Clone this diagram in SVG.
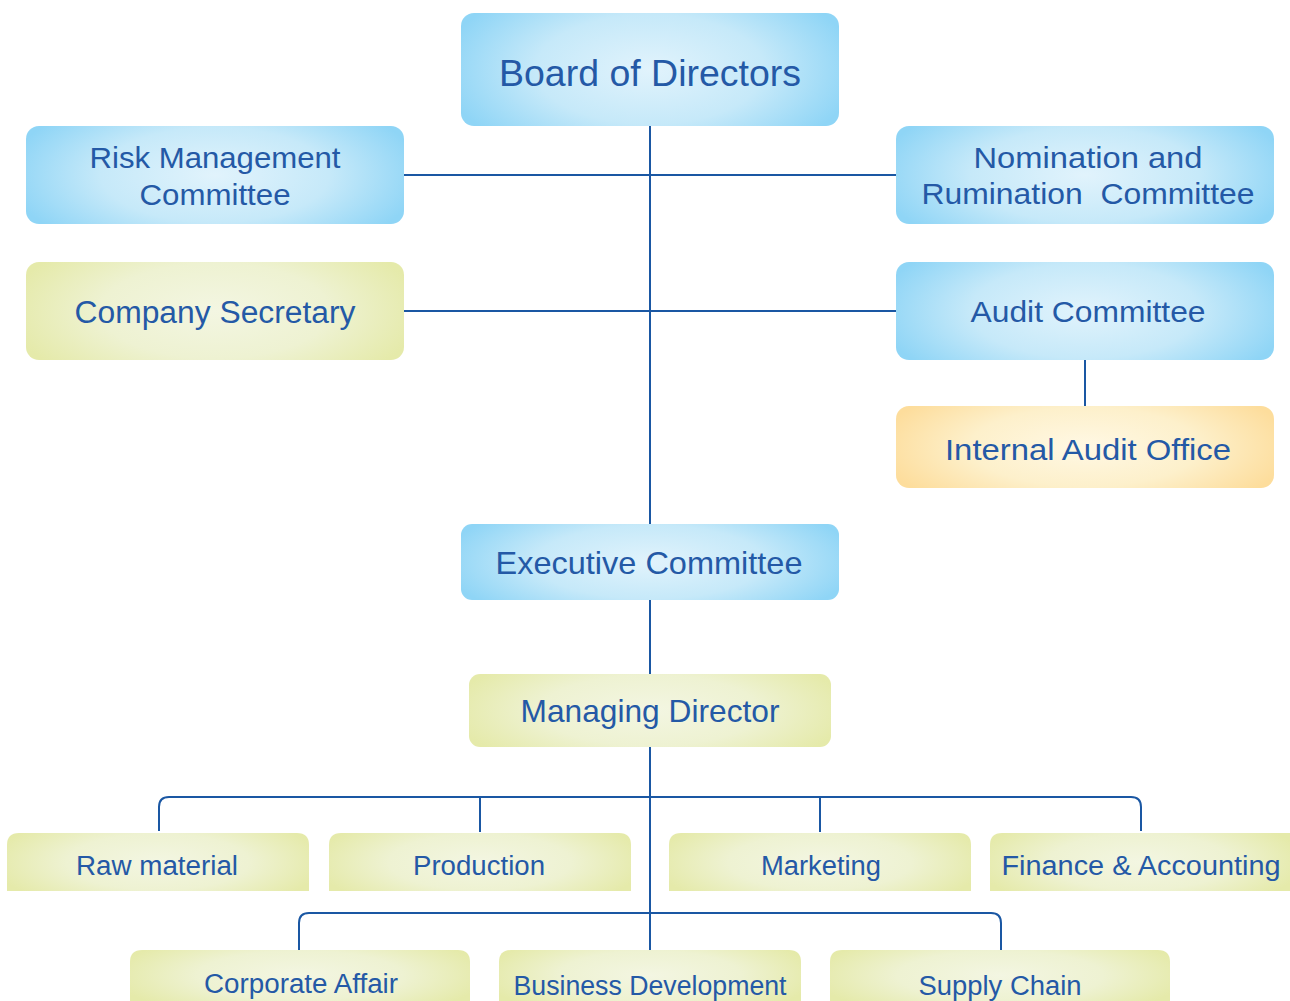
<svg xmlns="http://www.w3.org/2000/svg" width="1290" height="1001" viewBox="0 0 1290 1001">
  <defs>
    <radialGradient id="gBlue" cx="0.5" cy="0.5" r="0.55" gradientTransform="translate(0 0.5) scale(1 1.6) translate(0 -0.5)">
      <stop offset="0" stop-color="#e1f3fc"/>
      <stop offset="0.55" stop-color="#c6e9f9"/>
      <stop offset="1" stop-color="#8fd5f6"/>
    </radialGradient>
    <radialGradient id="gGreen" cx="0.5" cy="0.5" r="0.55" gradientTransform="translate(0 0.5) scale(1 1.6) translate(0 -0.5)">
      <stop offset="0" stop-color="#f3f6e2"/>
      <stop offset="0.55" stop-color="#eef2d2"/>
      <stop offset="1" stop-color="#e5eaaa"/>
    </radialGradient>
    <radialGradient id="gOrange" cx="0.5" cy="0.5" r="0.55" gradientTransform="translate(0 0.5) scale(1 1.6) translate(0 -0.5)">
      <stop offset="0" stop-color="#fff8e4"/>
      <stop offset="0.55" stop-color="#fdf0cb"/>
      <stop offset="1" stop-color="#fddd9c"/>
    </radialGradient>
    <style>
      .blue { fill: url(#gBlue); }
      .green { fill: url(#gGreen); }
      .orange { fill: url(#gOrange); }
      text { font-family: "Liberation Sans", "Noto Sans", sans-serif; fill: #2459a6; text-anchor: middle; white-space: pre; }
      .conn { fill: none; stroke: #1a57a3; stroke-width: 2; }
    </style>
  </defs>

  <!-- connectors -->
  <g id="connectors">
    <line class="conn" x1="650" y1="126" x2="650" y2="524"/>
    <line class="conn" x1="404" y1="175" x2="896" y2="175"/>
    <line class="conn" x1="404" y1="311" x2="896" y2="311"/>
    <line class="conn" x1="1085" y1="360" x2="1085" y2="406"/>
    <line class="conn" x1="650" y1="600" x2="650" y2="674"/>
    <line class="conn" x1="650" y1="747" x2="650" y2="950"/>
    <path class="conn" d="M159 831 V807 Q159 797 169 797 H1131 Q1141 797 1141 807 V831"/>
    <line class="conn" x1="480" y1="797" x2="480" y2="832"/>
    <line class="conn" x1="820" y1="797" x2="820" y2="832"/>
    <path class="conn" d="M299 950 V923 Q299 913 309 913 H991 Q1001 913 1001 923 V950"/>
  </g>

  <g id="board">
    <rect class="blue" x="461" y="13" width="378" height="113" rx="13"/>
    <text x="650" y="86" font-size="36" textLength="302" lengthAdjust="spacingAndGlyphs">Board of Directors</text>
  </g>

  <g id="risk">
    <rect class="blue" x="26" y="126" width="378" height="98" rx="13"/>
    <text x="215" y="168" font-size="29" textLength="251" lengthAdjust="spacingAndGlyphs">Risk Management</text>
    <text x="215" y="205" font-size="29" textLength="151" lengthAdjust="spacingAndGlyphs">Committee</text>
  </g>

  <g id="nomination">
    <rect class="blue" x="896" y="126" width="378" height="98" rx="13"/>
    <text x="1088" y="168" font-size="29" textLength="229" lengthAdjust="spacingAndGlyphs">Nomination and</text>
    <text x="1088" y="204" font-size="29" textLength="333" lengthAdjust="spacingAndGlyphs">Rumination  Committee</text>
  </g>

  <g id="secretary">
    <rect class="green" x="26" y="262" width="378" height="98" rx="13"/>
    <text x="215" y="323" font-size="31" textLength="281" lengthAdjust="spacingAndGlyphs">Company Secretary</text>
  </g>

  <g id="audit">
    <rect class="blue" x="896" y="262" width="378" height="98" rx="13"/>
    <text x="1088" y="322" font-size="30" textLength="235" lengthAdjust="spacingAndGlyphs">Audit Committee</text>
  </g>

  <g id="internal-audit">
    <rect class="orange" x="896" y="406" width="378" height="82" rx="13"/>
    <text x="1088" y="460" font-size="30" textLength="286" lengthAdjust="spacingAndGlyphs">Internal Audit Office</text>
  </g>

  <g id="executive">
    <rect class="blue" x="461" y="524" width="378" height="76" rx="11"/>
    <text x="649" y="574" font-size="32" textLength="307" lengthAdjust="spacingAndGlyphs">Executive Committee</text>
  </g>

  <g id="managing-director">
    <rect class="green" x="469" y="674" width="362" height="73" rx="11"/>
    <text x="650" y="722" font-size="32" textLength="259" lengthAdjust="spacingAndGlyphs">Managing Director</text>
  </g>

  <g id="raw-material">
    <path class="green" d="M7 891 V845 Q7 833 19 833 H297 Q309 833 309 845 V891 Z"/>
    <text x="157" y="875" font-size="27" textLength="162" lengthAdjust="spacingAndGlyphs">Raw material</text>
  </g>

  <g id="production">
    <path class="green" d="M329 891 V845 Q329 833 341 833 H619 Q631 833 631 845 V891 Z"/>
    <text x="479" y="875" font-size="27" textLength="132" lengthAdjust="spacingAndGlyphs">Production</text>
  </g>

  <g id="marketing">
    <path class="green" d="M669 891 V845 Q669 833 681 833 H959 Q971 833 971 845 V891 Z"/>
    <text x="821" y="875" font-size="27" textLength="120" lengthAdjust="spacingAndGlyphs">Marketing</text>
  </g>

  <g id="finance">
    <path class="green" d="M990 891 V845 Q990 833 1002 833 H1290 V891 Z"/>
    <text x="1141" y="875" font-size="27" textLength="279" lengthAdjust="spacingAndGlyphs">Finance &amp; Accounting</text>
  </g>

  <g id="corporate-affair">
    <path class="green" d="M130 1001 V962 Q130 950 142 950 H458 Q470 950 470 962 V1001 Z"/>
    <text x="301" y="993" font-size="27" textLength="194" lengthAdjust="spacingAndGlyphs">Corporate Affair</text>
  </g>

  <g id="business-development">
    <path class="green" d="M499 1001 V962 Q499 950 511 950 H789 Q801 950 801 962 V1001 Z"/>
    <text x="650" y="995" font-size="27" textLength="273" lengthAdjust="spacingAndGlyphs">Business Development</text>
  </g>

  <g id="supply-chain">
    <path class="green" d="M830 1001 V962 Q830 950 842 950 H1158 Q1170 950 1170 962 V1001 Z"/>
    <text x="1000" y="995" font-size="27" textLength="163" lengthAdjust="spacingAndGlyphs">Supply Chain</text>
  </g>
</svg>
